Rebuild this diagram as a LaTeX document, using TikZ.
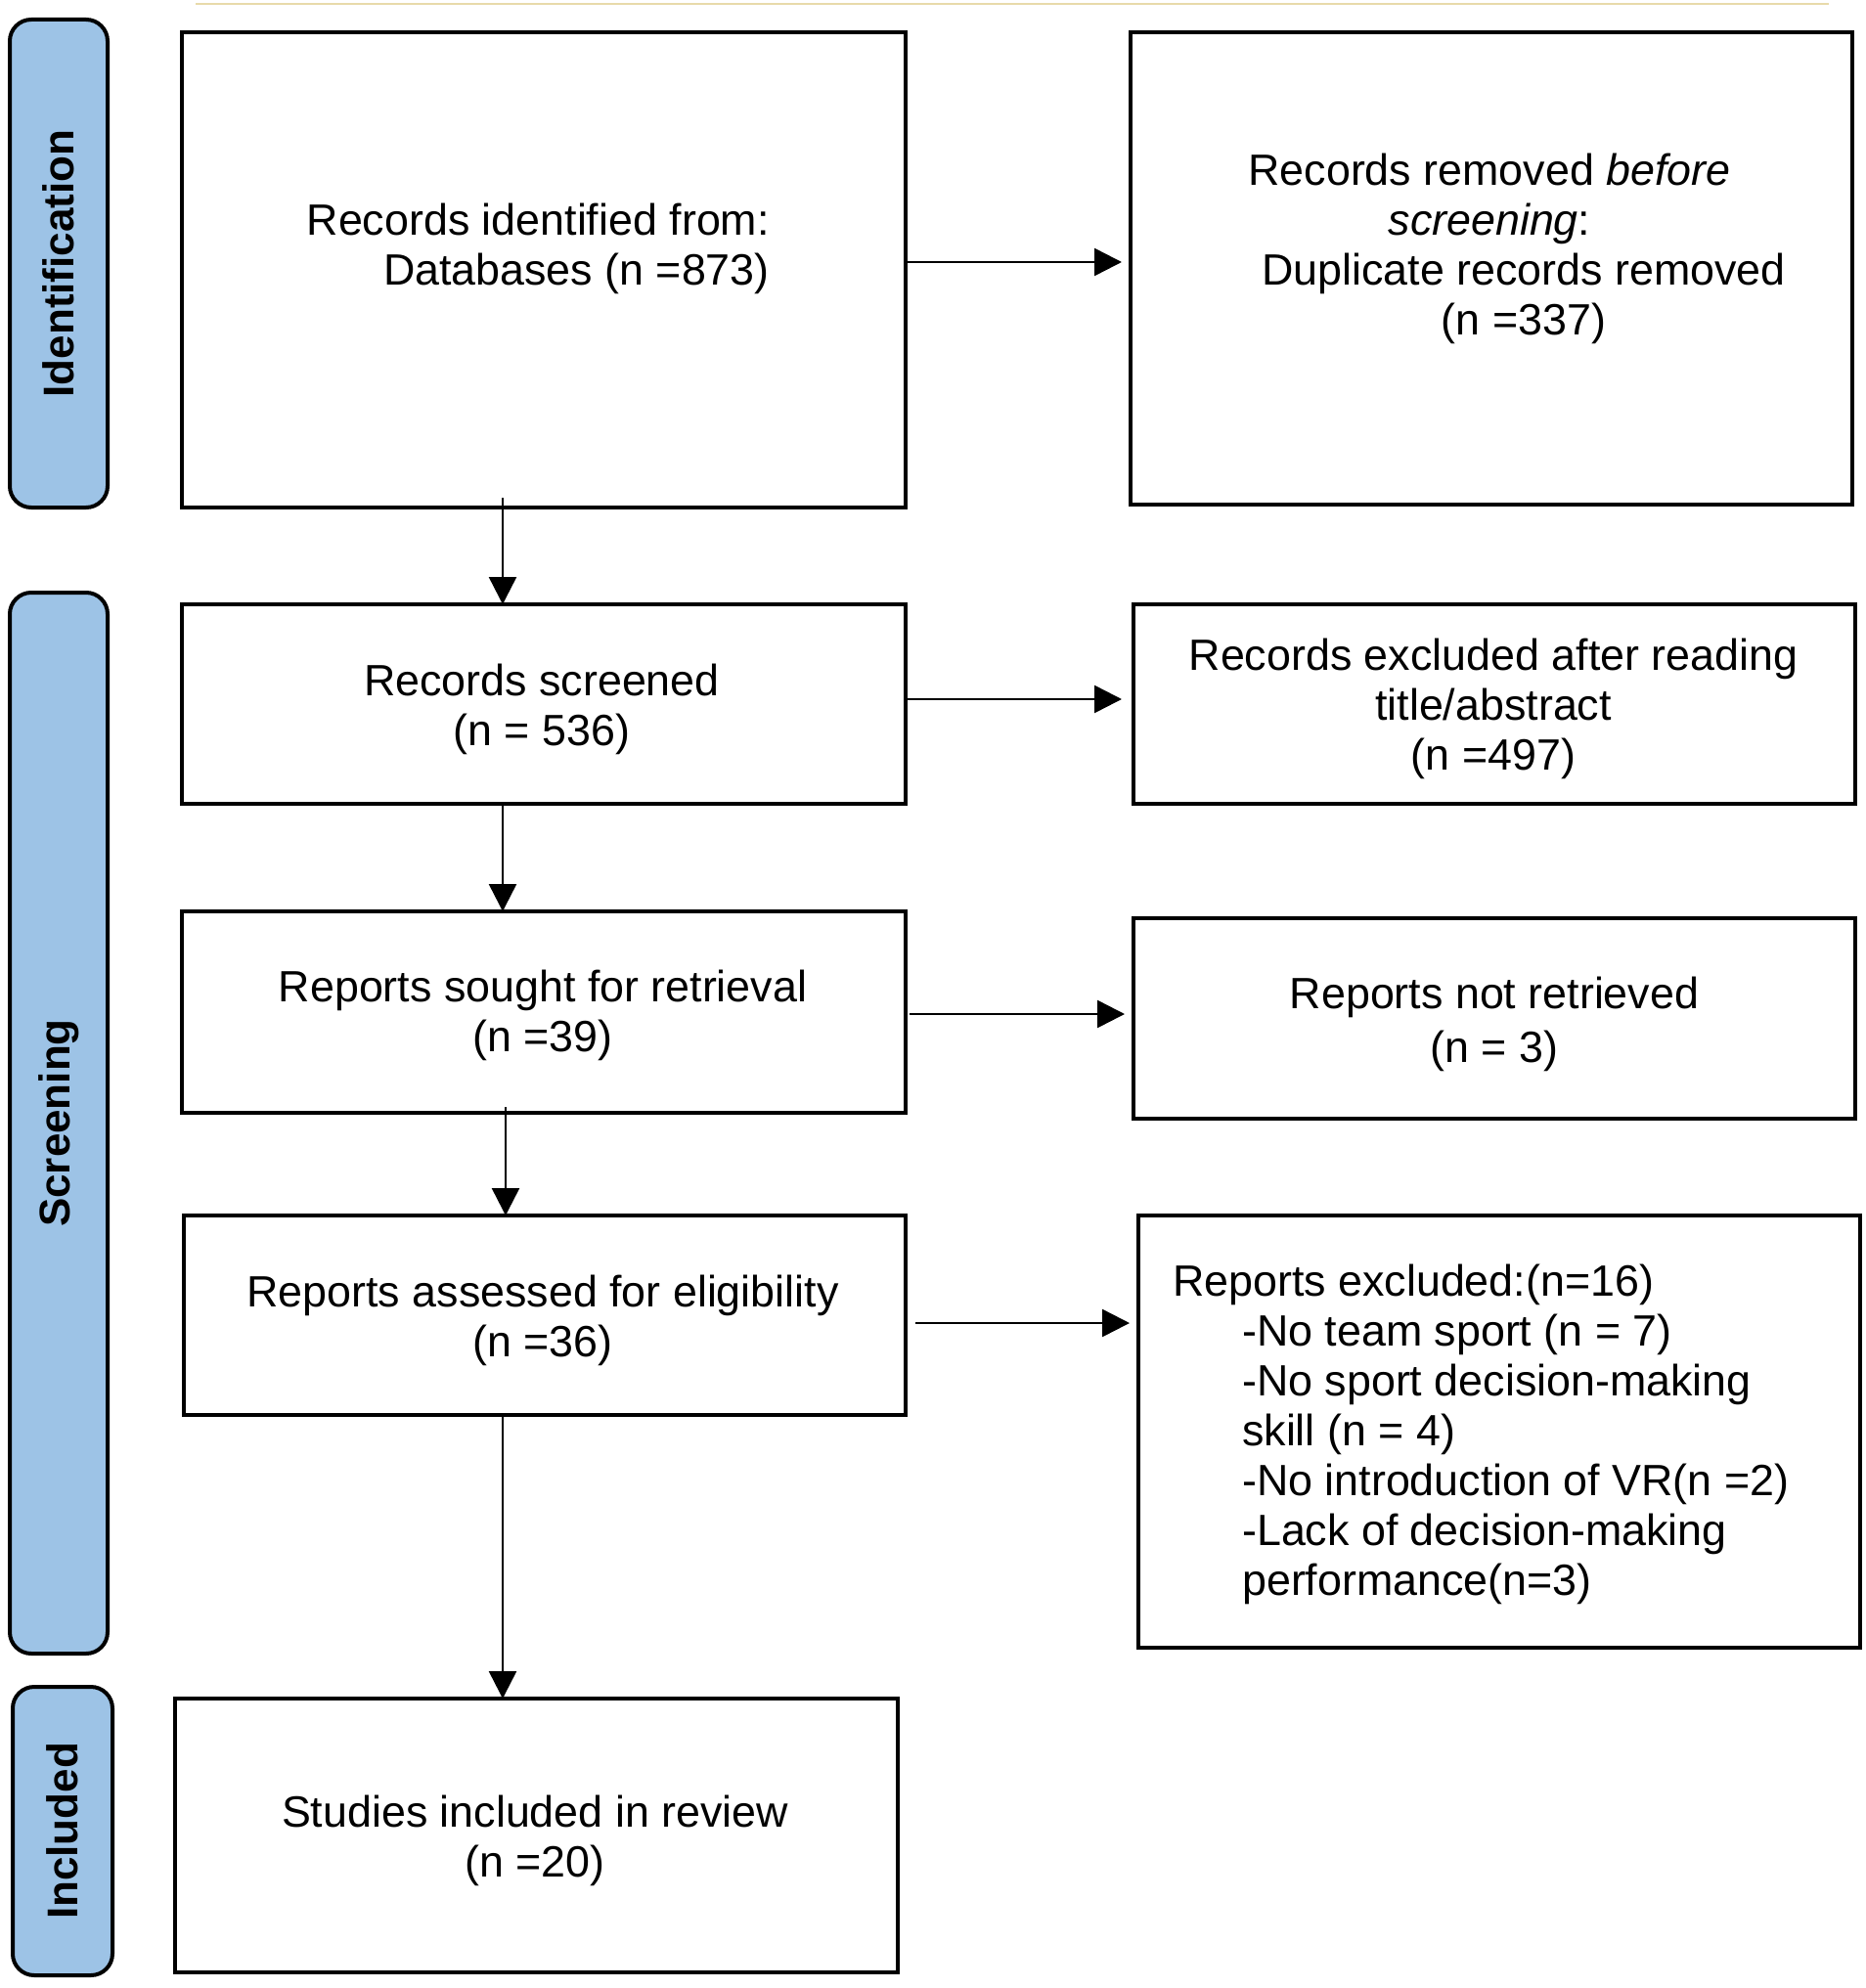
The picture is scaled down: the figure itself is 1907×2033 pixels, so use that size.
\documentclass[tikz,border=0pt]{standalone}
\usepackage{fontspec}
\setmainfont{Liberation Sans}
\usetikzlibrary{arrows.meta,calc}
\definecolor{barblue}{RGB}{157,195,230}
\definecolor{toplinecol}{RGB}{232,218,170}
\begin{document}
\begin{tikzpicture}[x=1pt,y=-1pt,
  box/.style={draw=black, line width=3.5pt, fill=white, inner sep=0pt, outer sep=0pt, anchor=north west},
  bar/.style={draw=black, line width=4pt, fill=barblue, rounded corners=22pt, inner sep=0pt, outer sep=0pt, anchor=north west},
  bartext/.style={font=\fontsize{44pt}{50pt}\selectfont\bfseries, rotate=90, inner sep=0pt},
  txt/.style={font=\fontsize{44.8pt}{51pt}\selectfont, align=center, inner sep=0pt},
  arr/.style={line width=2.5pt, -{Triangle[length=28pt,width=28pt]}}
]
\useasboundingbox (0,0) rectangle (1907,2033);

% faint top line
\draw[toplinecol, line width=2pt] (200,4) -- (1870,4);

% side bars
\node[bar, minimum width=100pt, minimum height=499pt] (barid) at (10,20) {};
\node[bar, minimum width=100pt, minimum height=1085pt] (barsc) at (10,606) {};
\node[bar, minimum width=102pt, minimum height=295pt] (barin) at (13,1725) {};
\node[bartext] (lid) at (barid.center) {Identification};
\node[bartext] (lsc) at (barsc.center) {Screening};
\node[bartext] (lin) at (barin.center) {Included};

% boxes
\node[box, minimum width=740pt, minimum height=486pt] (b1) at (186,33) {};
\node[box, minimum width=738pt, minimum height=483pt] (b2) at (1156,33) {};
\node[box, minimum width=740pt, minimum height=204pt] (b3) at (186,618) {};
\node[box, minimum width=738pt, minimum height=204pt] (b4) at (1159,618) {};
\node[box, minimum width=740pt, minimum height=206pt] (b5) at (186,932) {};
\node[box, minimum width=738pt, minimum height=205pt] (b6) at (1159,939) {};
\node[box, minimum width=738pt, minimum height=204pt] (b7) at (188,1243) {};
\node[box, minimum width=738pt, minimum height=442pt] (b8) at (1164,1243) {};
\node[box, minimum width=739pt, minimum height=280pt] (b9) at (179,1737) {};

% texts
\node[txt, align=right, anchor=east] (t1) at (787,254) {Records identified from:\\Databases (n =873)};
\node[txt] (t2a) at (1523,203) {Records removed \textit{before}\\\textit{screening}:};
\node[txt] (t2b) at (1558,305) {Duplicate records removed\\(n =337)};
\node[txt] (t3) at (554,725) {Records screened\\(n = 536)};
\node[txt] (t4) at (1527,725) {Records excluded after reading\\title/abstract\\(n =497)};
\node[txt] (t5) at (555,1038) {Reports sought for retrieval\\(n =39)};
\node[txt, font=\fontsize{44.8pt}{55pt}\selectfont] (t6) at (1528,1047) {Reports not retrieved\\(n = 3)};
\node[txt] (t7) at (555,1350) {Reports assessed for eligibility\\(n =36)};
\node[txt, align=left, anchor=west] (t8) at (1199,1467) {Reports excluded:(n=16)\\
\hspace*{71pt}-No team sport (n = 7)\\
\hspace*{71pt}-No sport decision-making\\
\hspace*{71pt}skill (n = 4)\\
\hspace*{71pt}-No introduction of VR(n =2)\\
\hspace*{71pt}-Lack of decision-making\\
\hspace*{71pt}performance(n=3)};
\node[txt] (t9) at (547,1882) {Studies included in review\\(n =20)};

% spine coordinates for vertical arrows
\coordinate (sp1) at (514,0);
\coordinate (sp2) at (517,0);

% vertical arrows
\draw[arr] ([yshift=10pt]b1.south -| sp1) -- (b3.north -| sp1);
\draw[arr] (b3.south -| sp1) -- (b5.north -| sp1);
\draw[arr] ([yshift=6pt]b5.south -| sp2) -- (b7.north -| sp2);
\draw[arr] (b7.south -| sp1) -- (b9.north -| sp1);

% horizontal arrows
\draw[arr, shorten >=9pt] ([yshift=8pt]b1.east) -- ([yshift=8pt]b1.east -| b2.west);
\draw[arr, shorten >=12pt] ([yshift=5pt]b3.east) -- ([yshift=5pt]b3.east -| b4.west);
\draw[arr, shorten <=4pt, shorten >=9pt] ([yshift=-2pt]b5.east) -- ([yshift=-2pt]b5.east -| b6.west);
\draw[arr, shorten <=10pt, shorten >=9pt] ([yshift=-8pt]b7.east) -- ([yshift=-8pt]b7.east -| b8.west);
\end{tikzpicture}
\end{document}
